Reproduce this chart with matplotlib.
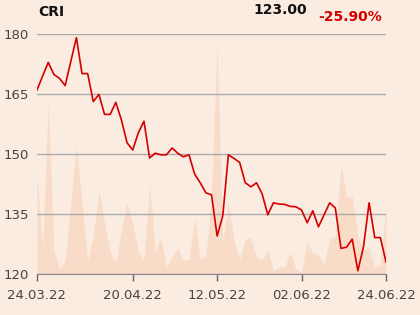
import matplotlib
matplotlib.use("Agg")
import matplotlib.pyplot as plt
import numpy as np

# Price series (trading days 24.03.22 - 24.06.22)
price = [166.0, 169.5, 172.9, 169.9, 168.9, 167.1, 173.1, 179.1, 170.1, 170.1,
         163.1, 164.9, 159.9, 159.9, 162.9, 158.5, 152.8, 151.0, 155.3, 158.2,
         149.0, 150.2, 149.8, 149.8, 151.5, 150.2, 149.3, 149.8, 145.0, 142.8,
         140.3, 139.8, 129.5, 134.5, 149.8, 148.9, 147.9, 142.8, 141.8, 142.8,
         140.0, 134.8, 137.8, 137.5, 137.4, 136.9, 136.8, 136.0, 132.8, 135.8,
         131.8, 134.8, 137.8, 136.5, 126.4, 126.7, 128.7, 120.8, 126.8, 137.8,
         129.1, 129.1, 123.0]

# Traded volume (relative units)
volume = [99, 26, 171, 24, 5, 14, 71, 128, 71, 14,
          37, 84, 51, 22, 12, 44, 72, 51, 22, 14,
          91, 22, 36, 7, 17, 26, 14, 14, 56, 14,
          19, 77, 232, 31, 71, 34, 14, 35, 36, 17,
          14, 24, 3, 7, 7, 22, 5, 2, 33, 21,
          20, 9, 36, 37, 109, 77, 78, 37, 24, 27,
          6, 10, 68]

tick_pos = [0, 17, 32, 47, 62]
tick_labels = ["24.03.22", "20.04.22", "12.05.22", "02.06.22", "24.06.22"]
y_ticks = [120, 135, 150, 165, 180]

ticker = "CRI"
last_price = "123.00"
change = "-25.90%"

bg = "#fbece1"
fig = plt.figure(figsize=(4.2, 3.15), dpi=100, facecolor=bg)
ax = fig.add_axes([37/420, 1-274/315, (386-37)/420, (274-34)/315])
ax.set_facecolor(bg)

x = np.arange(len(price))

ax2 = ax.twinx()
ax2.fill_between(x, 0, volume, color="#f8dcc8", lw=0, zorder=1)
ax2.set_ylim(0, 240)
ax2.axis("off")
ax.set_zorder(ax2.get_zorder() + 1)
ax.patch.set_visible(False)
ax2.patch.set_visible(True)
ax2.patch.set_facecolor(bg)
fig.patch.set_facecolor(bg)

ax.plot(x, price, color="#d40000", lw=1.2, zorder=3)
ax.set_xlim(0, len(price) - 1)
ax.set_ylim(120, 180)
ax.set_yticks(y_ticks)
ax.set_yticklabels([str(v) for v in y_ticks])
ax.set_xticks(tick_pos)
ax.set_xticklabels(tick_labels)
ax.grid(axis="y", color="#aaaaaa", lw=1)
ax.grid(axis="x", visible=False)
for s in ["top", "right", "left"]:
    ax.spines[s].set_visible(False)
ax.spines["bottom"].set_color("#888888")
ax.tick_params(axis="y", length=0, labelsize=9.5, labelcolor="#444444", pad=6)
ax.tick_params(axis="x", length=5, width=1, color="#666666", labelsize=9.5,
               labelcolor="#444444", pad=6)

fig.text(38/420, 1-16/315, ticker, fontsize=10, fontweight="bold", color="#111111",
         ha="left", va="baseline")
fig.text(307/420, 1-14.5/315, last_price, fontsize=10, fontweight="bold", color="#111111",
         ha="right", va="baseline")
fig.text(382/420, 1-21/315, change, fontsize=10, fontweight="bold", color="#d40000",
         ha="right", va="baseline")

fig.savefig("out.png", dpi=100, facecolor=bg)
